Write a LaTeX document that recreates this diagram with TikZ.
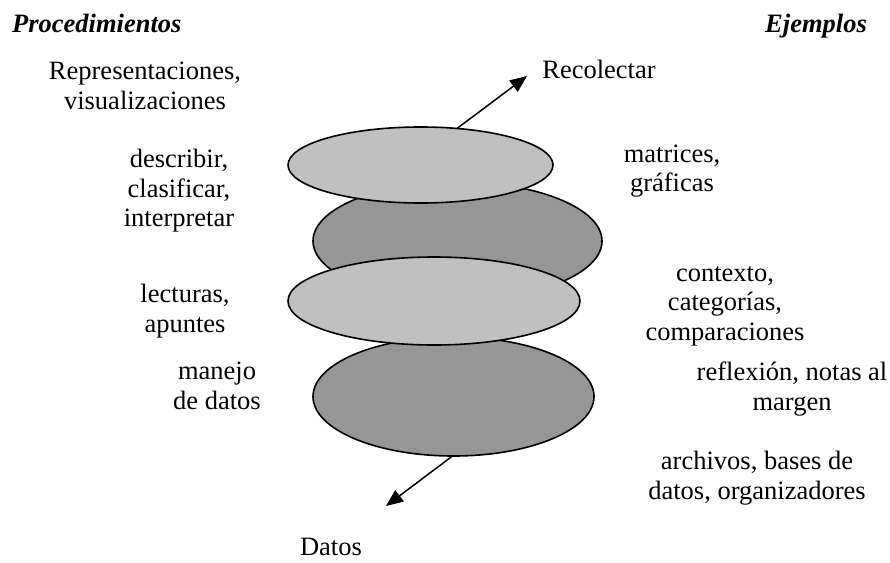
\documentclass[tikz,border=0pt]{standalone}
\usepackage{fontspec}
\setmainfont{Liberation Serif}
\usetikzlibrary{shapes.geometric,arrows.meta}
\definecolor{lightfill}{RGB}{192,192,192}
\definecolor{darkfill}{RGB}{150,150,150}
\begin{document}
\begin{tikzpicture}[x=1pt,y=-1pt,
  disc/.style={ellipse,draw=black,line width=1.6pt,inner sep=0pt,outer sep=0pt},
  lightdisc/.style={disc,fill=lightfill},
  darkdisc/.style={disc,fill=darkfill},
  lbl/.style={align=center,inner sep=0pt,font=\fontsize{26.5}{29.5}\selectfont},
  head/.style={inner sep=0pt,font=\fontsize{26.5}{29.5}\selectfont\bfseries\itshape},
  arr/.style={-{Triangle[length=17pt,width=14pt]},line width=1.5pt}]
\useasboundingbox (0,0) rectangle (890,562);
% ellipses
\node[darkdisc,minimum width=289pt,minimum height=118pt] (e2) at (457.5,241) {};
\node[darkdisc,minimum width=281pt,minimum height=119pt] (e4) at (453.5,396.5) {};
\node[lightdisc,minimum width=265pt,minimum height=76pt] (e1) at (420.5,165) {};
\node[lightdisc,minimum width=292pt,minimum height=88pt] (e3) at (434,301) {};
% arrows
\coordinate (rtip) at (527,76);
\coordinate (dtip) at (386,506);
\draw[arr] (e1.45) -- (rtip);
\draw[arr] (e4.-91) -- (dtip);
% headings
\node[head,anchor=base west] (hproc) at (12,32) {Procedimientos};
\node[head,anchor=base east] (hejem) at (867,32) {Ejemplos};
% left column
\node[lbl] (repr) at (145,86) {Representaciones,\\visualizaciones};
\node[lbl] (desc) at (179,191) {describir,\\clasificar,\\interpretar};
\node[lbl] (lect) at (185,311) {lecturas,\\apuntes};
\node[lbl] (mane) at (217,386) {manejo\\de datos};
% right column
\node[lbl,anchor=base] (reco) at (599,78) {Recolectar};
\node[lbl] (matr) at (672,171) {matrices,\\gráficas};
\node[lbl] (cont) at (725,306) {contexto,\\categorías,\\comparaciones};
\node[lbl] (refl) at (792,389) {reflexión, notas al\\margen};
\node[lbl] (arch) at (757,478) {archivos, bases de\\datos, organizadores};
\node[lbl,anchor=base] (dato) at (331,555) {Datos};
\end{tikzpicture}
\end{document}
